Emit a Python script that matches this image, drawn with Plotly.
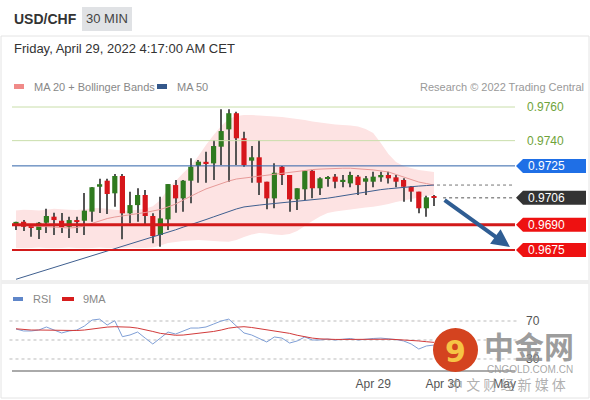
import plotly.graph_objects as go

# ---------------- data ----------------
opens = [0.96910, 0.96918, 0.96893, 0.96869, 0.96912, 0.96948, 0.96924, 0.96888, 0.96928, 0.96924,
         0.96978, 0.97126, 0.97162, 0.97087, 0.97190, 0.96968, 0.97017, 0.97077, 0.96952, 0.96839,
         0.96932, 0.97136, 0.97057, 0.97162, 0.97251, 0.97273, 0.97265, 0.97364, 0.97467, 0.97563,
         0.97414, 0.97281, 0.97301, 0.97156, 0.97057, 0.97245, 0.97196, 0.97051, 0.97111, 0.97221,
         0.97117, 0.97174, 0.97186, 0.97160, 0.97146, 0.97186, 0.97156, 0.97156, 0.97182, 0.97196,
         0.97182, 0.97166, 0.97126, 0.97097, 0.96998, 0.97063]
highs = [0.96918, 0.96928, 0.96893, 0.96916, 0.96995, 0.96972, 0.96970, 0.96948, 0.96948, 0.97089,
         0.97124, 0.97174, 0.97174, 0.97202, 0.97202, 0.97097, 0.97117, 0.97107, 0.96968, 0.97067,
         0.97142, 0.97166, 0.97166, 0.97295, 0.97285, 0.97334, 0.97404, 0.97586, 0.97586, 0.97572,
         0.97453, 0.97368, 0.97404, 0.97156, 0.97265, 0.97250, 0.97196, 0.97117, 0.97225, 0.97225,
         0.97182, 0.97190, 0.97202, 0.97196, 0.97215, 0.97196, 0.97190, 0.97215, 0.97215, 0.97215,
         0.97196, 0.97176, 0.97130, 0.97097, 0.97073, 0.97077]
lows = [0.96869, 0.96863, 0.96829, 0.96815, 0.96851, 0.96839, 0.96851, 0.96821, 0.96851, 0.96839,
        0.96918, 0.96970, 0.96964, 0.97007, 0.96814, 0.96909, 0.96918, 0.96893, 0.96790, 0.96770,
        0.96869, 0.96972, 0.96978, 0.97028, 0.97150, 0.97150, 0.97166, 0.97255, 0.97156, 0.97255,
        0.97245, 0.97150, 0.97077, 0.96992, 0.96998, 0.97136, 0.96978, 0.96988, 0.97047, 0.97057,
        0.97077, 0.97126, 0.97117, 0.97123, 0.97123, 0.97077, 0.97077, 0.97123, 0.97156, 0.97146,
        0.97123, 0.97037, 0.97037, 0.96968, 0.96948, 0.97012]
closes = [0.96916, 0.96888, 0.96884, 0.96912, 0.96952, 0.96928, 0.96885, 0.96928, 0.96916, 0.96984,
          0.97123, 0.97141, 0.97083, 0.97190, 0.96968, 0.97017, 0.97077, 0.96952, 0.96833, 0.96938,
          0.97142, 0.97057, 0.97162, 0.97245, 0.97275, 0.97267, 0.97368, 0.97457, 0.97563, 0.97414,
          0.97255, 0.97301, 0.97150, 0.97057, 0.97209, 0.97196, 0.97051, 0.97117, 0.97221, 0.97117,
          0.97176, 0.97182, 0.97156, 0.97166, 0.97196, 0.97136, 0.97176, 0.97186, 0.97196, 0.97176,
          0.97156, 0.97126, 0.97097, 0.96998, 0.97063, 0.97060]

ma20 = [0.96899, 0.96896, 0.96893, 0.96890, 0.96887, 0.96884, 0.96881, 0.96881, 0.96884, 0.96893,
        0.96908, 0.96922, 0.96937, 0.96946, 0.96952, 0.96958, 0.96964, 0.96973, 0.96982, 0.96991,
        0.97006, 0.97023, 0.97047, 0.97071, 0.97092, 0.97113, 0.97130, 0.97145, 0.97160, 0.97172,
        0.97178, 0.97184, 0.97188, 0.97193, 0.97199, 0.97205, 0.97212, 0.97217, 0.97223, 0.97228,
        0.97231, 0.97234, 0.97236, 0.97236, 0.97236, 0.97234, 0.97231, 0.97226, 0.97220, 0.97214,
        0.97199, 0.97184, 0.97166, 0.97154, 0.97145, 0.97136]
ma50 = [0.96576, 0.96590, 0.96604, 0.96618, 0.96632, 0.96646, 0.96660, 0.96675, 0.96689, 0.96702,
        0.96717, 0.96731, 0.96745, 0.96758, 0.96772, 0.96786, 0.96799, 0.96812, 0.96825, 0.96840,
        0.96855, 0.96870, 0.96886, 0.96900, 0.96915, 0.96931, 0.96947, 0.96964, 0.96979, 0.96994,
        0.97006, 0.97013, 0.97017, 0.97022, 0.97026, 0.97031, 0.97035, 0.97040, 0.97044, 0.97049,
        0.97053, 0.97058, 0.97065, 0.97073, 0.97080, 0.97088, 0.97095, 0.97103, 0.97109, 0.97114,
        0.97119, 0.97123, 0.97127, 0.97130, 0.97133, 0.97136]
bb_upper = [0.96985, 0.96990, 0.96988, 0.96985, 0.96990, 0.96995, 0.96992, 0.96990, 0.96988, 0.96992,
            0.96998, 0.97000, 0.96995, 0.96990, 0.96985, 0.96985, 0.96990, 0.96995, 0.97010, 0.97047,
            0.97113, 0.97160, 0.97208, 0.97249, 0.97309, 0.97374, 0.97434, 0.97487, 0.97529, 0.97547,
            0.97552, 0.97552, 0.97549, 0.97547, 0.97544, 0.97541, 0.97535, 0.97529, 0.97523, 0.97514,
            0.97508, 0.97502, 0.97496, 0.97493, 0.97490, 0.97484, 0.97469, 0.97445, 0.97386, 0.97321,
            0.97273, 0.97249, 0.97237, 0.97226, 0.97220, 0.97214]
bb_lower = [0.96762, 0.96760, 0.96762, 0.96765, 0.96762, 0.96760, 0.96762, 0.96765, 0.96762, 0.96760,
            0.96762, 0.96765, 0.96762, 0.96760, 0.96762, 0.96765, 0.96762, 0.96762, 0.96765, 0.96777,
            0.96792, 0.96798, 0.96804, 0.96806, 0.96809, 0.96806, 0.96804, 0.96801, 0.96799, 0.96809,
            0.96827, 0.96842, 0.96851, 0.96848, 0.96842, 0.96839, 0.96845, 0.96863, 0.96893, 0.96922,
            0.96949, 0.96970, 0.96979, 0.96985, 0.96991, 0.96997, 0.97003, 0.97007, 0.97015, 0.97023,
            0.97035, 0.97044, 0.97053, 0.97062, 0.97071, 0.97077]

rsi = [61.6, 59.5, 59.5, 60.5, 63.7, 60.5, 57.4, 59.5, 60.5, 64.7,
       71, 72, 65.8, 70.3, 53.5, 55.3, 58.4, 52, 45.8, 52,
       58.4, 56.3, 59.5, 62.6, 62.6, 63.7, 66.8, 70, 72, 64.7,
       57.4, 55.3, 52, 47.9, 53.2, 52, 46.8, 49, 53.2, 50,
       50, 51, 50, 50.5, 51.6, 50, 51, 51.6, 52, 51.6,
       50.5, 49, 45.8, 40.5, 43.7, 44.7]
rsi_ma9 = [61.8, 61, 60.5, 60.5, 60.3, 60, 59.8, 59.8, 60, 60.5,
           61.5, 63, 63.6, 64, 63.8, 63.5, 62.5, 61, 59, 57,
           56, 55, 55.2, 56, 56.8, 57.7, 59, 60.5, 62.5, 63.5,
           64, 63.2, 62, 61, 60.2, 58.5, 57, 55, 53.2, 52,
           51.2, 50.7, 50.6, 50.6, 50.7, 50.8, 51, 51, 51, 50.8,
           50.5, 50.2, 49.8, 49, 48.2, 47.5]

green_levels = [0.9760, 0.9740]
blue_level = 0.9725
red_levels = [0.9690, 0.9675]
tag_levels = [0.9725, 0.9706, 0.9690, 0.9675]
rsi_levels = [70, 50, 30]
rsi_labels = [70, 30]
date_tick_pos = [47, 56.2, 64.3]
date_tick_text = ["Apr 29", "Apr 30", "May"]

# ---------------- layout helpers ----------------
W, H = 590, 400
def px(x):
    return x / W
def py(y):
    return 1 - y / H

FONT = "Liberation Sans, Arial, sans-serif"
idx = list(range(len(opens)))
X_RANGE = [-0.526, 65.66]
Y_RANGE = [0.965539, 0.976416]
Y_DOM = [py(283), py(100)]
price_per_px = (Y_RANGE[1] - Y_RANGE[0]) / ((Y_DOM[1] - Y_DOM[0]) * H)

GREEN = "#2f7a1f"
RED = "#d6161b"

fig = go.Figure()

# wicks
fig.add_trace(go.Bar(x=idx, y=[h - l for h, l in zip(highs, lows)], base=lows,
                     width=0.14, marker=dict(color="#555555", line=dict(width=0)),
                     hoverinfo="skip", showlegend=False))
# bodies
min_body = 1.2 * price_per_px
body_base = [min(o, c) for o, c in zip(opens, closes)]
body_h = [max(abs(c - o), min_body) for o, c in zip(opens, closes)]
body_col = [GREEN if c >= o else RED for o, c in zip(opens, closes)]
fig.add_trace(go.Bar(x=idx, y=body_h, base=body_base, width=0.68,
                     marker=dict(color=body_col, line=dict(width=0)),
                     hoverinfo="skip", showlegend=False))

# moving averages
fig.add_trace(go.Scatter(x=idx, y=ma20, mode="lines", line=dict(color="#e79a98", width=1),
                         hoverinfo="skip", showlegend=False))
fig.add_trace(go.Scatter(x=idx, y=ma50, mode="lines", line=dict(color="#3f5f8f", width=1),
                         hoverinfo="skip", showlegend=False))

# RSI panel
fig.add_trace(go.Scatter(x=idx, y=rsi, mode="lines", line=dict(color="#7f9fd6", width=1),
                         xaxis="x2", yaxis="y2", hoverinfo="skip", showlegend=False))
fig.add_trace(go.Scatter(x=idx, y=rsi_ma9, mode="lines", line=dict(color="#d23a3a", width=1),
                         xaxis="x2", yaxis="y2", hoverinfo="skip", showlegend=False))

shapes = []
annotations = []

# card frame and separators
shapes.append(dict(type="rect", xref="paper", yref="paper", x0=px(1), x1=px(589), y0=py(398), y1=py(36),
                   line=dict(color="#e4e4e4", width=1), layer="below"))
shapes.append(dict(type="rect", xref="paper", yref="paper", x0=px(1), x1=px(589), y0=py(284), y1=py(280),
                   fillcolor="#efefef", line=dict(width=0), layer="below"))

# Bollinger band fill
band_path = "M " + " L ".join(f"{i},{u}" for i, u in zip(idx, bb_upper))
band_path += " L " + " L ".join(f"{i},{l}" for i, l in zip(reversed(idx), reversed(bb_lower))) + " Z"
shapes.append(dict(type="path", xref="x", yref="y", path=band_path, fillcolor="#fde3e3",
                   line=dict(width=0), layer="below"))

# level lines
for lv in green_levels:
    shapes.append(dict(type="line", xref="x domain", yref="y", x0=0, x1=1, y0=lv, y1=lv,
                       line=dict(color="#c9deaa", width=1), layer="above"))
shapes.append(dict(type="line", xref="x domain", yref="y", x0=0, x1=1, y0=blue_level, y1=blue_level,
                   line=dict(color="#2f62a8", width=1), layer="above"))
shapes.append(dict(type="line", xref="x domain", yref="y", x0=0, x1=1, y0=red_levels[0], y1=red_levels[0],
                   line=dict(color="#d21a1a", width=3), layer="above"))
shapes.append(dict(type="line", xref="x domain", yref="y", x0=0, x1=1, y0=red_levels[1], y1=red_levels[1],
                   line=dict(color="#d21a1a", width=2), layer="above"))

# dotted right-hand lines (MA level and last price)
shapes.append(dict(type="line", xref="x", yref="y", x0=idx[-1] + 0.4, x1=X_RANGE[1], y0=ma20[-1], y1=ma20[-1],
                   line=dict(color="#777777", width=1, dash="dot"), layer="above"))
shapes.append(dict(type="line", xref="x", yref="y", x0=idx[-1] + 1.2, x1=X_RANGE[1], y0=closes[-1], y1=closes[-1],
                   line=dict(color="#555555", width=1, dash="dot"), layer="above"))

# green labels
for lv in green_levels:
    annotations.append(dict(x=px(525), y=lv, xref="paper", yref="y", text=f"{lv:.4f}", showarrow=False,
                            xanchor="left", yanchor="middle", font=dict(family=FONT, size=12, color="#6fa33a")))

# tags
tag_cols = ["#1f6fe6", "#333333", "#ee1111", "#ee1111"]
hh = 7 * price_per_px
for lv, col in zip(tag_levels, tag_cols):
    p = (f"M {px(516)},{lv} L {px(523)},{lv + hh} L {px(586)},{lv + hh} "
         f"L {px(586)},{lv - hh} L {px(523)},{lv - hh} Z")
    shapes.append(dict(type="path", xref="paper", yref="y", path=p, fillcolor=col, line=dict(width=0),
                       layer="above"))
    annotations.append(dict(x=px(526), y=lv, xref="paper", yref="y", text=f"{lv:.4f}", showarrow=False,
                            xanchor="left", yanchor="middle", font=dict(family=FONT, size=12, color="white")))

# forecast arrow
annotations.append(dict(x=65.0, y=0.96768, xref="x", yref="y", ax=56.2, ay=0.97053, axref="x", ayref="y",
                        showarrow=True, arrowhead=2, arrowsize=0.9, arrowwidth=4, arrowcolor="#2f5d93",
                        text=""))

# RSI dotted levels
for lv in rsi_levels:
    shapes.append(dict(type="line", xref="x2 domain", yref="y2", x0=-0.005, x1=1.004, y0=lv, y1=lv,
                       line=dict(color="#bbbbbb", width=1, dash="dot"), layer="below"))
for lv in rsi_labels:
    annotations.append(dict(x=px(524), y=lv, xref="paper", yref="y2", text=str(lv), showarrow=False,
                            xanchor="left", yanchor="middle", font=dict(family=FONT, size=12, color="#555555")))

# header
annotations.append(dict(x=px(12), y=py(19), xref="paper", yref="paper", text="<b>USD/CHF</b>", showarrow=False,
                        xanchor="left", yanchor="middle", font=dict(family=FONT, size=14, color="#333333")))
shapes.append(dict(type="rect", xref="paper", yref="paper", x0=px(82), x1=px(132), y0=py(31), y1=py(7),
                   fillcolor="#e0e2e5", line=dict(width=0)))
annotations.append(dict(x=px(107), y=py(19), xref="paper", yref="paper", text="30 MIN", showarrow=False,
                        xanchor="center", yanchor="middle", font=dict(family=FONT, size=13, color="#444444")))
annotations.append(dict(x=px(12), y=py(48), xref="paper", yref="paper",
                        text="Friday, April 29, 2022 4:17:00 AM CET", showarrow=False,
                        xanchor="left", yanchor="middle", font=dict(family=FONT, size=13, color="#333333")))

# legends
shapes.append(dict(type="rect", xref="paper", yref="paper", x0=px(14), x1=px(24), y0=py(89), y1=py(84),
                   fillcolor="#f08a88", line=dict(width=0)))
annotations.append(dict(x=px(32), y=py(86.5), xref="paper", yref="paper", text="MA 20 + Bollinger Bands",
                        showarrow=False, xanchor="left", yanchor="middle",
                        font=dict(family=FONT, size=11, color="#888888")))
shapes.append(dict(type="rect", xref="paper", yref="paper", x0=px(157), x1=px(167), y0=py(89), y1=py(84),
                   fillcolor="#34588b", line=dict(width=0)))
annotations.append(dict(x=px(175), y=py(86.5), xref="paper", yref="paper", text="MA 50",
                        showarrow=False, xanchor="left", yanchor="middle",
                        font=dict(family=FONT, size=11, color="#888888")))
annotations.append(dict(x=px(586), y=py(86.5), xref="paper", yref="paper", text="Research © 2022 Trading Central",
                        showarrow=False, xanchor="right", yanchor="middle",
                        font=dict(family=FONT, size=11, color="#999999")))
shapes.append(dict(type="rect", xref="paper", yref="paper", x0=px(13), x1=px(23), y0=py(301), y1=py(297),
                   fillcolor="#5f86c9", line=dict(width=0)))
annotations.append(dict(x=px(31), y=py(299), xref="paper", yref="paper", text="RSI",
                        showarrow=False, xanchor="left", yanchor="middle",
                        font=dict(family=FONT, size=11, color="#888888")))
shapes.append(dict(type="rect", xref="paper", yref="paper", x0=px(62), x1=px(74), y0=py(301), y1=py(297),
                   fillcolor="#d71d1d", line=dict(width=0)))
annotations.append(dict(x=px(81), y=py(299), xref="paper", yref="paper", text="9MA",
                        showarrow=False, xanchor="left", yanchor="middle",
                        font=dict(family=FONT, size=11, color="#888888")))

# watermark
shapes.append(dict(type="circle", xref="paper", yref="paper", x0=px(433), x1=px(478), y0=py(372), y1=py(328),
                   fillcolor="#d4431f", line=dict(width=0), layer="above"))
annotations.append(dict(x=px(455), y=py(351), xref="paper", yref="paper", text="<b>9</b>", showarrow=False,
                        xanchor="center", yanchor="middle",
                        font=dict(family="DejaVu Sans", size=30, color="#f6c445")))
annotations.append(dict(x=px(529), y=py(345), xref="paper", yref="paper", text="<b>中金网</b>", showarrow=False,
                        xanchor="center", yanchor="middle",
                        font=dict(family="Noto Sans CJK SC", size=30, color="rgba(140,140,140,0.85)")))
annotations.append(dict(x=px(530), y=py(369), xref="paper", yref="paper", text="CNGOLD.COM.CN", showarrow=False,
                        xanchor="center", yanchor="middle",
                        font=dict(family=FONT, size=10, color="rgba(150,150,150,0.85)")))
annotations.append(dict(x=px(507), y=py(384), xref="paper", yref="paper", text="中 文 财 经 新 媒 体",
                        showarrow=False, xanchor="center", yanchor="middle",
                        font=dict(family="Noto Sans CJK SC", size=14, color="rgba(150,150,150,0.75)")))

fig.update_layout(
    width=W, height=H, margin=dict(l=0, r=0, t=0, b=0),
    paper_bgcolor="white", plot_bgcolor="rgba(0,0,0,0)",
    barmode="overlay", showlegend=False,
    xaxis=dict(domain=[px(12), px(515)], range=X_RANGE, visible=False, fixedrange=True),
    yaxis=dict(domain=Y_DOM, range=Y_RANGE, visible=False, fixedrange=True),
    xaxis2=dict(domain=[px(12), px(515)], range=X_RANGE, anchor="y2", showgrid=False, zeroline=False,
                showline=True, linecolor="#aaaaaa", linewidth=2, ticks="", ticklabelstandoff=2,
                tickvals=date_tick_pos, ticktext=date_tick_text,
                tickfont=dict(family=FONT, size=12, color="#555555")),
    yaxis2=dict(domain=[py(370), py(295)], range=[18.4, 97.4], visible=False, fixedrange=True),
    shapes=shapes, annotations=annotations,
)

fig.write_html("out.html")
